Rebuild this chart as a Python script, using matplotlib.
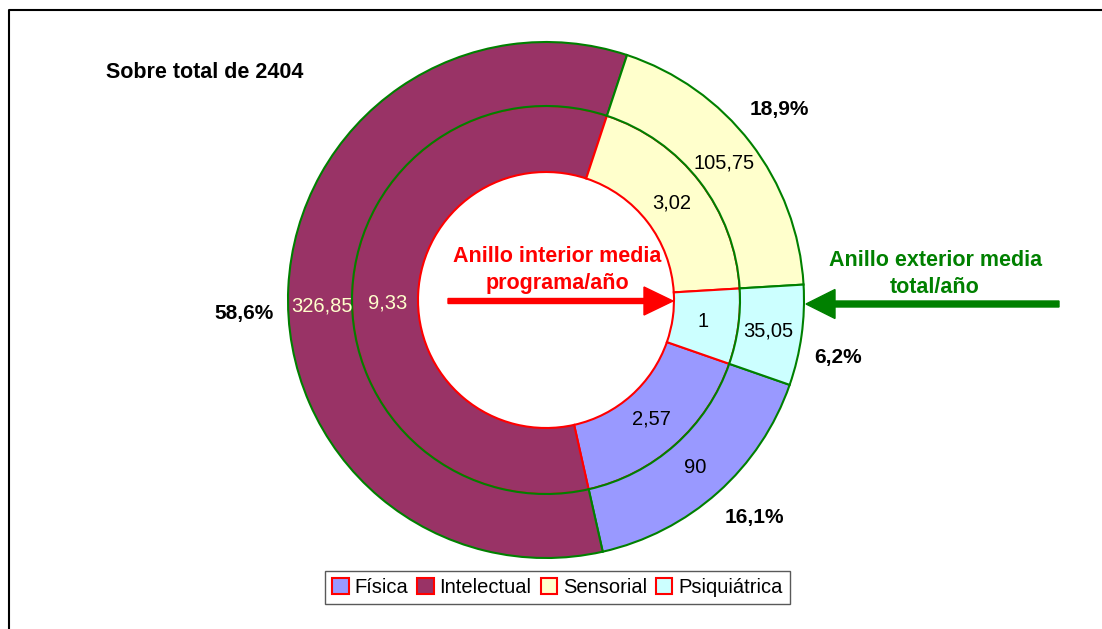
import numpy as np
import matplotlib
matplotlib.use("Agg")
import matplotlib.pyplot as plt
from matplotlib.patches import Patch

# ---------------- data ----------------
categories = ["Física", "Intelectual", "Sensorial", "Psiquiátrica"]
outer_values = [90, 326.85, 105.75, 35.05]      # media total/año
inner_values = [2.57, 9.33, 3.02, 1]            # media programa/año
outer_labels = ["90", "326,85", "105,75", "35,05"]
inner_labels = ["2,57", "9,33", "3,02", "1"]
pct_labels = ["16,1%", "58,6%", "18,9%", "6,2%"]
title_text = "Sobre total de 2404"

# ---------------- style ----------------
colors = ["#9999FF", "#993366", "#FFFFCC", "#CCFFFF"]
label_colors = ["black", "#FFFFCC", "black", "black"]
GREEN = "#008000"
RED = "#FF0000"
plt.rcParams["font.family"] = ["Liberation Sans", "DejaVu Sans"]
FS = 14.5
FSB = 15.5

W, H = 1102, 629
fig = plt.figure(figsize=(W / 100, H / 100), dpi=100)
ax = fig.add_axes([0, 0, 1, 1])

cx, cy = 546, H - 300
R_out, R_mid, R_hole = 258, 194, 128
start = -19.2

inner_w, _ = ax.pie(inner_values, radius=R_mid, center=(cx, cy), startangle=start,
                    counterclock=False, colors=colors,
                    wedgeprops=dict(width=R_mid - R_hole, edgecolor=RED, linewidth=1.5))
outer_w, _ = ax.pie(outer_values, radius=R_out, center=(cx, cy), startangle=start,
                    counterclock=False, colors=colors,
                    wedgeprops=dict(width=R_out - R_mid, edgecolor=GREEN, linewidth=1.5))

# vertical nudges (pixels, downward) mimicking the source's label placement
inner_dy = [0, 11, 0, 0]
outer_dy = [0, 17, 0, 0]

def put_labels(wedges, labels, r, dys):
    for w, lab, col, dy in zip(wedges, labels, label_colors, dys):
        mid = np.deg2rad((w.theta1 + w.theta2) / 2)
        ax.text(cx + r * np.cos(mid), cy + r * np.sin(mid) - dy, lab, ha="center",
                va="center", fontsize=FS, color=col)

put_labels(inner_w, inner_labels, (R_mid + R_hole) / 2 - 2, inner_dy)
put_labels(outer_w, outer_labels, (R_out + R_mid) / 2 - 2, outer_dy)

# percentage labels (text boxes)
pct_pos = [(754, 518), (244, 314), (779, 110), (838, 357)]
for (px, py), lab in zip(pct_pos, pct_labels):
    ax.text(px, H - py, lab, ha="center", va="center", fontsize=FS + 0.5, fontweight="bold")

ax.text(106, H - 72, title_text, ha="left", va="center", fontsize=15.5, fontweight="bold")

# annotations
ax.text(557, H - 262, "Anillo interior media", ha="center", va="baseline",
        fontsize=FSB, fontweight="bold", color=RED)
ax.text(557, H - 289, "programa/año", ha="center", va="baseline",
        fontsize=FSB, fontweight="bold", color=RED)
ax.arrow(448, H - 301, 673 - 448, 0, width=5, head_width=28, head_length=29,
         length_includes_head=True, color=RED, zorder=5)

ax.text(936, H - 266, "Anillo exterior media", ha="center", va="baseline",
        fontsize=FSB, fontweight="bold", color=GREEN)
ax.text(935, H - 293, "total/año", ha="center", va="baseline",
        fontsize=FSB, fontweight="bold", color=GREEN)
ax.arrow(1059, H - 304, 806 - 1059, 0, width=6, head_width=29, head_length=29,
         length_includes_head=True, color=GREEN, zorder=5)

# legend
handles = [Patch(facecolor=c, edgecolor=RED, linewidth=1.5) for c in colors]
leg = ax.legend(handles, categories, loc="center", ncol=4,
                bbox_to_anchor=(557.5 / W, 1 - 587.5 / H), bbox_transform=fig.transFigure,
                fontsize=FS, handlelength=0.8, handleheight=0.8, handletextpad=0.3,
                columnspacing=0.45, borderpad=0.35, borderaxespad=0, fancybox=False,
                frameon=True)
leg.get_frame().set_edgecolor("#303030")
leg.get_frame().set_linewidth(1.0)

# frame (left and top border of the chart area)
ax.plot([9, 9, W + 5], [-5, H - 10, H - 10], color="black", lw=1.5, clip_on=False)

ax.set_xlim(0, W)
ax.set_ylim(0, H)
ax.set_aspect("equal")
ax.axis("off")

fig.savefig("out.png", dpi=100, facecolor="white")
